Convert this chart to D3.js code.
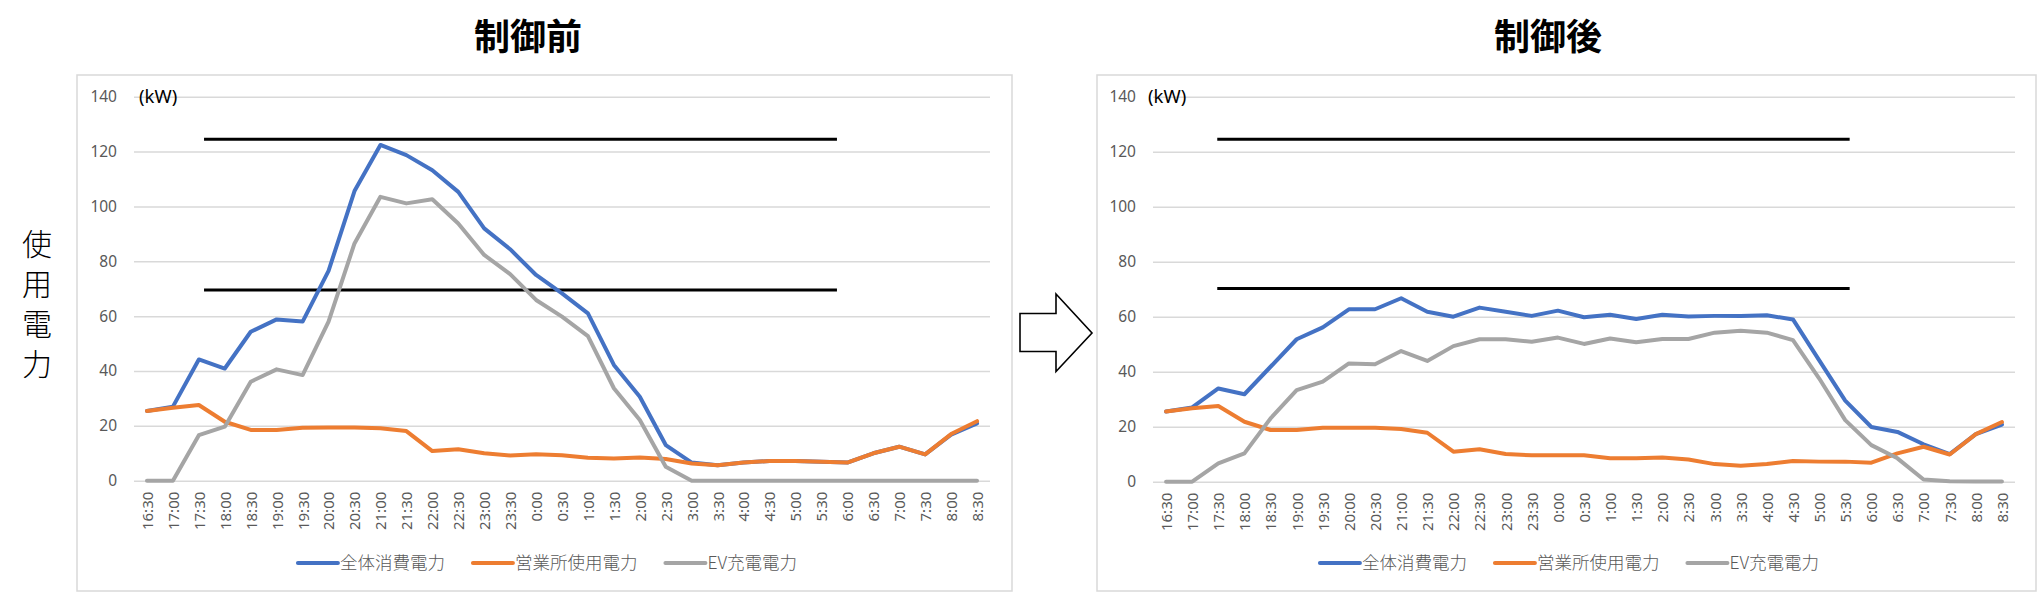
<!DOCTYPE html>
<html>
<head>
<meta charset="utf-8">
<script src="https://cdn.jsdelivr.net/npm/d3@7"></script>
<style>
  body { margin: 0; background: #fff; }
  svg { display: block; }
</style>
</head>
<body>
<script>
// chart values
var categories = ["16:30","17:00","17:30","18:00","18:30","19:00","19:30","20:00","20:30","21:00","21:30","22:00","22:30","23:00","23:30",
                  "0:00","0:30","1:00","1:30","2:00","2:30","3:00","3:30","4:00","4:30","5:00","5:30","6:00","6:30","7:00","7:30","8:00","8:30"];
var yTicks = [0, 20, 40, 60, 80, 100, 120, 140];
var seriesNames = ["全体消費電力", "営業所使用電力", "EV充電電力"];
var titles = ["制御前", "制御後"];
var yLabel = "使用電力";
var unitLabel = "(kW)";

var beforeTotal  = [25.4,27.0,44.2,40.9,54.3,58.8,58.0,76.5,105.6,122.4,118.7,113.2,105.3,92.0,84.4,75.0,68.3,61.0,42.2,30.6,13.0,6.6,5.6,6.6,7.2,7.2,6.9,6.6,10.0,12.4,9.6,16.8,20.9];
var beforeOffice = [25.4,26.6,27.6,21.5,18.5,18.5,19.3,19.4,19.4,19.1,18.1,10.8,11.5,10.0,9.2,9.6,9.3,8.4,8.1,8.5,7.9,6.3,5.6,6.6,7.2,7.2,6.9,6.6,10.0,12.4,9.6,17.0,21.7];
var beforeEV     = [0,0,16.6,19.7,36.1,40.6,38.5,58.0,86.5,103.5,101.1,102.6,93.8,82.3,75.3,65.9,59.8,52.7,33.7,22.1,5.1,0,0,0,0,0,0,0,0,0,0,0,0];

var afterTotal  = [25.5,27.0,33.9,31.8,41.8,51.8,56.1,62.7,62.7,66.7,61.8,60.0,63.3,61.8,60.3,62.2,59.8,60.7,59.2,60.7,60.1,60.3,60.3,60.5,59.0,44.2,29.5,19.9,18.1,13.6,10.0,17.3,20.8];
var afterOffice = [25.5,26.7,27.5,21.8,18.8,18.8,19.6,19.6,19.6,19.2,17.8,10.9,11.8,10.1,9.6,9.6,9.6,8.5,8.5,8.8,8.1,6.4,5.8,6.4,7.5,7.3,7.3,6.9,10.3,12.7,9.9,17.3,21.7];
var afterEV     = [0,0,6.7,10.3,23.0,33.3,36.4,43.0,42.7,47.5,43.9,49.3,51.8,51.8,50.9,52.4,50.1,52.1,50.7,51.9,51.9,54.2,54.9,54.2,51.5,37.6,22.4,13.3,8.5,0.8,0.2,0.1,0.1];

// black reference lines: kW level, from/to in category index units
var beforeRefLevels = [124.5, 69.5];
var beforeRefSpan = [2.2, 26.6];
var afterRefLevels = [124.5, 70.3];
var afterRefSpan = [1.96, 26.17];

var colors = ["#4472C4", "#ED7D31", "#A5A5A5"];

var W = 2037, H = 593;
var svg = d3.select("body").append("svg")
    .attr("width", W).attr("height", H)
    .style("background", "#fff");

function drawPanel(p) {
  var g = svg.append("g");

  // outer chart frame
  g.append("rect")
    .attr("x", p.box[0]).attr("y", p.box[1])
    .attr("width", p.box[2] - p.box[0]).attr("height", p.box[3] - p.box[1])
    .attr("fill", "#fff").attr("stroke", "#D9D9D9").attr("stroke-width", 1.5);

  var x = d3.scalePoint().domain(categories).range([p.left, p.right]).padding(0.5);
  var xi = d3.scaleLinear().domain([0, categories.length - 1]).range([x(categories[0]), x(categories[categories.length - 1])]);
  var y = d3.scaleLinear().domain([0, 140]).range([p.bottom, p.top]);

  // y axis with gridlines
  var yAxis = d3.axisLeft(y).tickValues(yTicks).tickSizeInner(-(p.right - p.left)).tickSizeOuter(0).tickPadding(p.tickPad);
  var ya = g.append("g").attr("transform", "translate(" + p.left + ",0)").call(yAxis);
  ya.select(".domain").remove();
  ya.selectAll(".tick line").attr("stroke", "#D9D9D9").attr("stroke-width", 1.5);
  ya.selectAll(".tick text")
    .attr("fill", "#595959")
    .style("font-family", "'Noto Sans', sans-serif")
    .style("font-size", "15.5px");

  // x axis, labels turned up
  var xAxis = d3.axisBottom(x).tickSize(0);
  var xa = g.append("g").attr("transform", "translate(0," + p.bottom + ")").call(xAxis);
  xa.select(".domain").remove();
  xa.selectAll(".tick text")
    .attr("transform", "rotate(-90)")
    .attr("text-anchor", "end")
    .attr("x", -11).attr("y", 0).attr("dy", "0.36em")
    .attr("fill", "#595959")
    .style("font-family", "'Noto Sans', sans-serif")
    .style("font-size", "15px");

  // unit label
  g.append("text")
    .attr("x", p.unitX).attr("y", y(140))
    .attr("dy", "0.36em")
    .attr("fill", "#000")
    .style("font-family", "'Noto Sans', sans-serif")
    .style("font-size", "18.5px")
    .text(unitLabel);

  // reference lines
  g.selectAll(".ref").data(p.refLevels).enter().append("line")
    .attr("x1", xi(p.refSpan[0])).attr("x2", xi(p.refSpan[1]))
    .attr("y1", function(d) { return y(d); }).attr("y2", function(d) { return y(d); })
    .attr("stroke", "#000").attr("stroke-width", 3);

  // series
  var line = d3.line()
    .x(function(d, i) { return x(categories[i]); })
    .y(function(d) { return y(d); });
  p.series.forEach(function(s, k) {
    g.append("path")
      .datum(s)
      .attr("d", line)
      .attr("fill", "none")
      .attr("stroke", colors[k])
      .attr("stroke-width", 4)
      .attr("stroke-linejoin", "round")
      .attr("stroke-linecap", "round");
  });

  // title
  svg.append("text")
    .attr("x", p.titleX).attr("y", 34)
    .attr("text-anchor", "middle").attr("dominant-baseline", "central")
    .style("font-family", "'Noto Sans CJK JP', sans-serif")
    .style("font-weight", "700")
    .style("font-size", "36px")
    .text(p.title);

  // legend
  var lg = g.append("g");
  var cx = 0;
  seriesNames.forEach(function(name, k) {
    lg.append("line")
      .attr("x1", cx).attr("x2", cx + 40).attr("y1", 0).attr("y2", 0)
      .attr("stroke", colors[k]).attr("stroke-width", 4).attr("stroke-linecap", "round");
    var t = lg.append("text")
      .attr("x", cx + 42).attr("y", 0).attr("dy", "0.36em")
      .attr("fill", "#595959")
      .style("font-family", "'Noto Sans CJK JP', sans-serif")
      .style("font-weight", "300")
      .style("font-size", "17.5px")
      .text(name);
    cx += 42 + t.node().getComputedTextLength() + 28;
  });
  var lw = cx - 28;
  lg.attr("transform", "translate(" + ((p.box[0] + p.box[2]) / 2 - lw / 2 + 3) + ",563)");
}

drawPanel({
  box: [77, 75, 1012, 591], left: 134, right: 990, top: 96.7, bottom: 480.7,
  tickPad: 17, unitX: 139, title: titles[0], titleX: 528,
  series: [beforeTotal, beforeOffice, beforeEV],
  refLevels: beforeRefLevels, refSpan: beforeRefSpan
});
drawPanel({
  box: [1097, 75, 2036, 591], left: 1153, right: 2015, top: 96.7, bottom: 481.7,
  tickPad: 17, unitX: 1148, title: titles[1], titleX: 1548,
  series: [afterTotal, afterOffice, afterEV],
  refLevels: afterRefLevels, refSpan: afterRefSpan
});

// vertical axis caption
var yl = svg.append("text")
  .attr("text-anchor", "middle")
  .style("font-family", "'Noto Sans CJK JP', sans-serif")
  .style("font-weight", "300")
  .style("font-size", "30px")
  .attr("fill", "#000");
yLabel.split("").forEach(function(ch, i) {
  yl.append("tspan").attr("x", 37).attr("y", 244 + i * 40).attr("dy", "0.36em").text(ch);
});

// outlined block arrow between the charts
svg.append("path")
  .attr("d", "M1020,313.5 L1056,313.5 L1056,294 L1092,333 L1056,371.5 L1056,351.5 L1020,351.5 Z")
  .attr("fill", "#fff").attr("stroke", "#000").attr("stroke-width", 1.6)
  .attr("stroke-linejoin", "miter");
</script>
</body>
</html>
